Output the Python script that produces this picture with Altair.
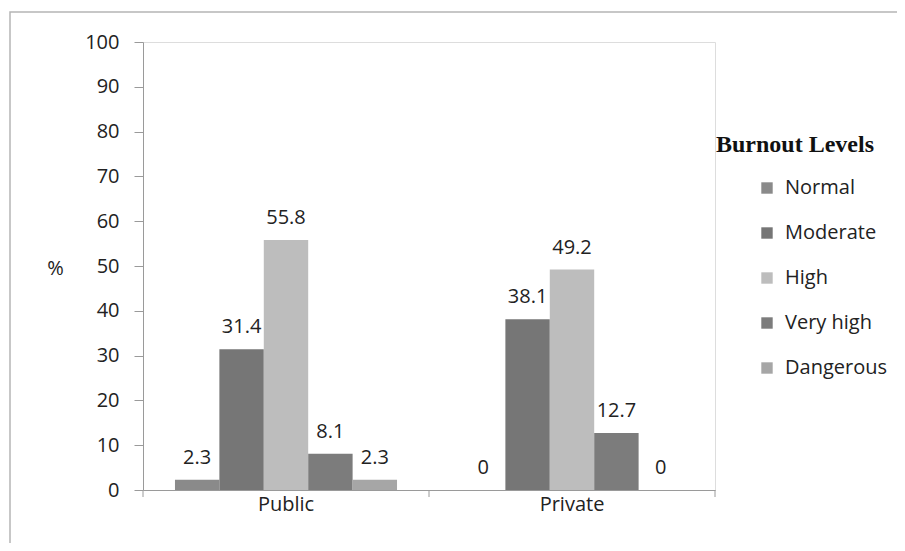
import altair as alt
import pandas as pd

groups = ["Public", "Private"]
levels = ["Normal", "Moderate", "High", "Very high", "Dangerous"]
public_vals = [2.3, 31.4, 55.8, 8.1, 2.3]
private_vals = [0, 38.1, 49.2, 12.7, 0]
level_colors = ["#8a8a8a", "#767676", "#bdbdbd", "#7c7c7c", "#a6a6a6"]

rows = []
for g, vals in zip(groups, [public_vals, private_vals]):
    for lvl, v in zip(levels, vals):
        rows.append({"group": g, "level": lvl, "value": v,
                     "label": ("%g" % v), "order": levels.index(lvl)})
df = pd.DataFrame(rows)

FONT = "Open Sans"
TXT = "#222222"
W, H = 572, 448

x_enc = alt.X("group:N", sort=groups, title=None,
              scale=alt.Scale(paddingInner=0, paddingOuter=0),
              axis=alt.Axis(ticks=False, domain=True, domainColor="#9a9a9a",
                            labelAngle=0, labelFontSize=20, labelFont=FONT,
                            labelColor=TXT, labelPadding=4))
xoff = alt.XOffset("level:N", sort=levels,
                   scale=alt.Scale(paddingInner=0, paddingOuter=0.72))
y_enc = alt.Y("value:Q", title="%",
              scale=alt.Scale(domain=[0, 100]),
              axis=alt.Axis(values=list(range(0, 101, 10)), grid=False,
                            domainColor="#9a9a9a", tickColor="#9a9a9a",
                            tickSize=9, labelPadding=15, labelFontSize=20,
                            labelFont=FONT, labelColor=TXT,
                            titleAngle=0, titleX=-88, titleY=226,
                            titleAlign="center", titleBaseline="middle",
                            titleFontSize=20, titleFont=FONT,
                            titleFontWeight="normal", titleColor=TXT))

bars = alt.Chart(df).mark_bar().encode(
    x=x_enc, xOffset=xoff, y=y_enc,
    color=alt.Color("level:N", sort=levels,
                    scale=alt.Scale(domain=levels, range=level_colors),
                    legend=alt.Legend(title=None, orient="none",
                                      legendX=614, legendY=136,
                                      symbolType="square", symbolSize=130,
                                      symbolStrokeWidth=0,
                                      labelFontSize=20, labelFont=FONT,
                                      labelColor=TXT, labelOffset=8,
                                      rowPadding=25)),
)

labels = alt.Chart(df).mark_text(fontSize=20, font=FONT, color=TXT,
                                 baseline="middle", dy=-22).encode(
    x=alt.X("group:N", sort=groups), xOffset=xoff,
    y="value:Q", text="label:N",
)

tick_df = pd.DataFrame({"group": groups})
ticks_start = alt.Chart(tick_df).mark_rule(color="#9a9a9a").encode(
    x=alt.X("group:N", sort=groups, bandPosition=0),
    y=alt.value(H), y2=alt.value(H + 7),
)
ticks_end = alt.Chart(tick_df).transform_filter(
    alt.datum.group == "Private").mark_rule(color="#9a9a9a").encode(
    x=alt.X("group:N", sort=groups, bandPosition=1),
    y=alt.value(H), y2=alt.value(H + 7),
)

legend_title = alt.Chart(pd.DataFrame({"t": ["Burnout Levels"]})).mark_text(
    font="Liberation Serif", fontWeight="bold", fontSize=24,
    color="#111111", align="center", baseline="alphabetic").encode(
    x=alt.value(652), y=alt.value(110), text="t:N")

frame = alt.Chart(pd.DataFrame({"a": [0]})).mark_rect(
    fill=None, stroke="#b5b5b5", strokeWidth=1.5).encode(
    x=alt.value(-133), x2=alt.value(770), y=alt.value(-30), y2=alt.value(506))

chart = alt.layer(frame, bars, labels, ticks_start, ticks_end, legend_title).properties(
    width=W, height=H,
    autosize=alt.AutoSizeParams(type="none"),
    padding={"left": 135, "top": 34, "right": 182, "bottom": 53},
).configure_view(stroke=None).configure(background="white")

chart.save("out.html", embed_options={"renderer": "svg", "actions": False})
